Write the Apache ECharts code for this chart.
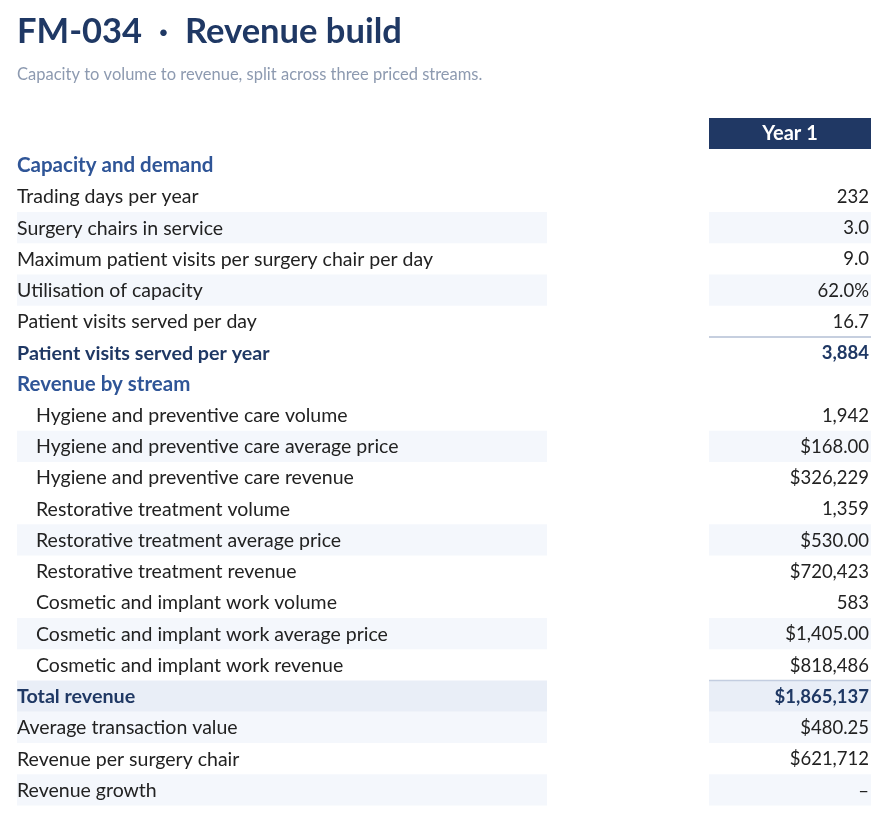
<!DOCTYPE html>
<html>
<head>
<meta charset="utf-8">
<script src="https://cdn.jsdelivr.net/npm/echarts@6/dist/echarts.min.js"></script>
<style>
html,body{margin:0;padding:0;background:#fff;}
#chart{width:887px;height:817px;}
</style>
</head>
<body>
<div id="chart"></div>
<script>
// ---- data ----
var titleText = 'FM-034  \u00b7  Revenue build';
var subtitleText = 'Capacity to volume to revenue, split across three priced streams.';
var columnHeader = 'Year 1';
var rowLabels = [
  'Capacity and demand',
  'Trading days per year',
  'Surgery chairs in service',
  'Maximum patient visits per surgery chair per day',
  'Utilisation of capacity',
  'Patient visits served per day',
  'Patient visits served per year',
  'Revenue by stream',
  'Hygiene and preventive care volume',
  'Hygiene and preventive care average price',
  'Hygiene and preventive care revenue',
  'Restorative treatment volume',
  'Restorative treatment average price',
  'Restorative treatment revenue',
  'Cosmetic and implant work volume',
  'Cosmetic and implant work average price',
  'Cosmetic and implant work revenue',
  'Total revenue',
  'Average transaction value',
  'Revenue per surgery chair',
  'Revenue growth'
];
var rowValues = [
  '', '232', '3.0', '9.0', '62.0%', '16.7', '3,884',
  '', '1,942', '$168.00', '$326,229', '1,359', '$530.00', '$720,423',
  '583', '$1,405.00', '$818,486', '$1,865,137', '$480.25', '$621,712', '\u2013'
];
// row kinds: s = section header, d = data, i = indented data, b = bold subtotal, t = total
var rowKinds = ['s','d','d','d','d','d','b','s','i','i','i','i','i','i','i','i','i','t','d','d','d'];
var rowStriped = [0,0,1,0,1,0,0,0,0,1,0,0,1,0,0,1,0,0,1,0,1];
var ruleBelow = [0,0,0,0,0,1,0,0,0,0,0,0,0,0,0,0,0,0,0,0,0];
var ruleAbove = [0,0,0,0,0,0,0,0,0,0,0,0,0,0,0,0,0,1,0,0,0];

var FONT = 'Lato, "Noto Sans", sans-serif';
var NAVY = '#1f3864';
var SECTION = '#2f5597';
var TEXT = '#222222';

var seriesData = rowLabels.map(function (l, i) { return [0, i]; });

var chart = echarts.init(document.getElementById('chart'), null, {renderer: 'canvas'});

function renderItem(params, api) {
  var idx = api.value(1);
  var c = api.coord([0, idx]);
  var h = api.size([0, 1])[1];
  var yTop = c[1] - h / 2;
  var ty = c[1] + 0.7;
  var kind = rowKinds[idx];
  var x = function (v) { return api.coord([v, idx])[0]; };
  var children = [];
  var bandL0 = x(17), bandL1 = x(547), bandR0 = x(709), bandR1 = x(871);
  if (kind === 't') {
    children.push({type: 'rect', shape: {x: bandL0, y: yTop, width: bandL1 - bandL0, height: h}, style: {fill: '#e9eef7'}});
    children.push({type: 'rect', shape: {x: bandR0, y: yTop, width: bandR1 - bandR0, height: h}, style: {fill: '#e9eef7'}});
  } else if (rowStriped[idx]) {
    children.push({type: 'rect', shape: {x: bandL0, y: yTop, width: bandL1 - bandL0, height: h}, style: {fill: '#f4f7fc'}});
    children.push({type: 'rect', shape: {x: bandR0, y: yTop, width: bandR1 - bandR0, height: h}, style: {fill: '#f4f7fc'}});
  }
  if (ruleBelow[idx]) {
    children.push({type: 'line', shape: {x1: bandR0, y1: yTop + h, x2: bandR1, y2: yTop + h}, style: {stroke: '#b3bfd4', lineWidth: 1.5}});
  }
  if (ruleAbove[idx]) {
    children.push({type: 'line', shape: {x1: bandR0, y1: yTop, x2: bandR1, y2: yTop}, style: {stroke: '#c3cde0', lineWidth: 1.5}});
  }
  var labelX = kind === 'i' ? x(36) : x(17);
  var font, color;
  var bold = (kind === 'b' || kind === 't');
  if (kind === 's') { font = 'bold 20.5px ' + FONT; color = SECTION; }
  else if (bold) { font = 'bold 19.7px ' + FONT; color = NAVY; }
  else { font = '19.5px ' + FONT; color = TEXT; }
  children.push({type: 'text', style: {x: labelX, y: ty, text: rowLabels[idx], font: font, fill: color, textAlign: 'left', textVerticalAlign: 'middle'}});
  if (rowValues[idx]) {
    children.push({type: 'text', style: {x: x(869), y: ty, text: rowValues[idx], font: bold ? 'bold 18.5px ' + FONT : '18.5px ' + FONT, fill: bold ? NAVY : TEXT, textAlign: 'right', textVerticalAlign: 'middle'}});
  }
  return {type: 'group', children: children};
}

chart.setOption({
  animation: false,
  backgroundColor: '#ffffff',
  grid: {left: 0, right: 0, top: 149.4, bottom: 11.4, containLabel: false},
  xAxis: {type: 'value', min: 0, max: 887, show: false},
  yAxis: {type: 'category', inverse: true, data: rowLabels, show: false, boundaryGap: true},
  graphic: [
    {type: 'text', style: {x: 17, y: 32, text: titleText, font: 'bold 34.5px ' + FONT, fill: NAVY, textAlign: 'left', textVerticalAlign: 'middle'}},
    {type: 'text', style: {x: 17, y: 74.5, text: subtitleText, font: '16.5px ' + FONT, fill: '#8d9ab0', textAlign: 'left', textVerticalAlign: 'middle'}},
    {type: 'rect', shape: {x: 709, y: 118, width: 162, height: 31}, style: {fill: '#203864'}},
    {type: 'text', style: {x: 790, y: 134, text: columnHeader, font: 'bold 20px ' + FONT, fill: '#ffffff', textAlign: 'center', textVerticalAlign: 'middle'}}
  ],
  series: [{
    type: 'custom',
    renderItem: renderItem,
    data: seriesData,
    encode: {x: 0, y: 1},
    clip: false,
    silent: true
  }]
});
</script>
</body>
</html>
